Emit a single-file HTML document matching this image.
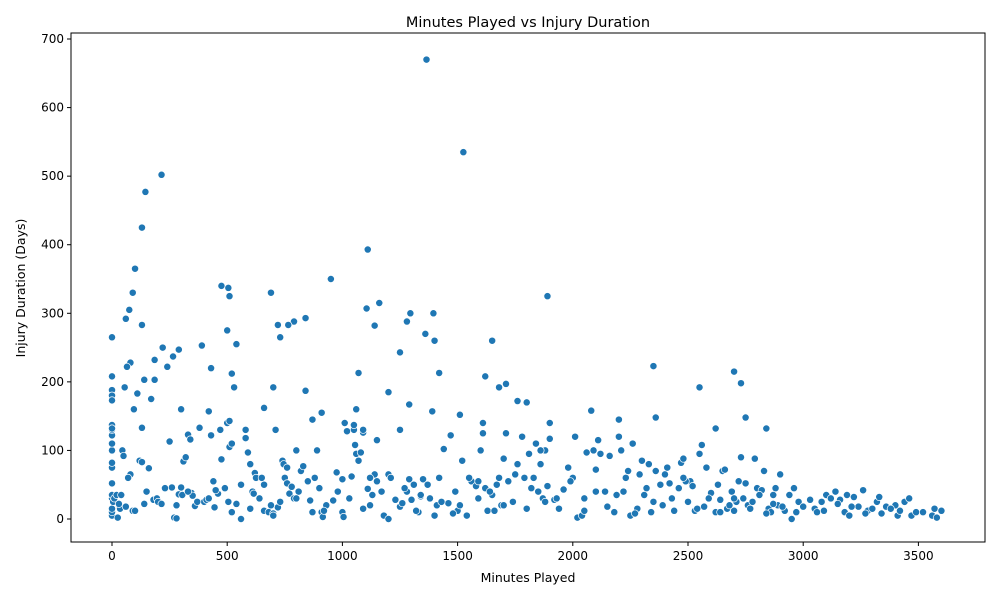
<!DOCTYPE html>
<html><head><meta charset="utf-8"><style>
body{margin:0;background:#fff;font-family:"Liberation Sans","DejaVu Sans",sans-serif}
svg text{font-family:"DejaVu Sans","Liberation Sans",sans-serif;fill:#000}
</style></head><body>
<svg id="chart" width="1000" height="600" xmlns="http://www.w3.org/2000/svg">
<text x="528" y="27" font-size="14.5" text-anchor="middle">Minutes Played vs Injury Duration</text>
<g id="marks"></g>
<g id="axes"></g>
<text x="528" y="582" font-size="12.5" text-anchor="middle">Minutes Played</text>
<text transform="translate(25,288) rotate(-90)" font-size="12.5" text-anchor="middle">Injury Duration (Days)</text>
</svg>
<script>
const minutes=[0,0,0,0,0,0,0,0,0,0,0,0,5,10,20,25,30,35,40,45,50,60,80,90,100,110,120,130,140,160,180,195,200,215,250,260,270,280,290,300,305,310,320,330,340,345,350,360,380,400,410,420,430,440,445,460,470,475,490,500,505,510,520,540,560,580,580,590,600,610,615,620,625,640,660,660,680,700,700,720,730,740,745,750,760,770,780,790,800,810,820,830,860,870,880,890,900,910,915,930,960,975,1000,1000,1005,1010,1020,1040,1050,1055,1060,1070,1080,1090,1110,1120,1130,1140,1150,1170,1180,1200,1200,1210,1250,1260,1280,1290,1300,1310,1330,1340,1350,1380,1400,1410,1420,1440,1460,1470,1490,1500,1510,1520,1540,1560,1580,1600,1610,1620,1630,1650,1660,1670,1680,1690,1700,1710,1720,1740,1760,1780,1790,1800,1810,1830,1840,1850,1860,1870,1880,1890,1900,1920,1940,1960,1980,2000,2010,2020,2040,2050,2060,2080,2090,2100,2110,2120,2140,2160,2180,2200,2200,2210,2220,2240,2250,2260,2280,2290,2300,2310,2330,2340,2350,2360,2380,2400,2410,2420,2440,2460,2470,2480,2500,2510,2520,2530,2550,2560,2570,2580,2600,2620,2630,2640,2650,2660,2670,2690,2700,2720,2730,2740,2750,2760,2780,2790,2800,2820,2830,2850,2860,2870,2880,2890,2900,2920,2940,2950,2960,2980,3000,3050,3060,3080,3100,3120,3140,3160,3180,3190,3200,3220,3240,3260,3280,3300,3320,3330,3340,3360,3400,3410,3420,3440,3460,3470,3490,3560,3570,3580,3600,
1365,1525,215,145,130,1110,950,100,475,505,510,690,90,1890,1160,75,1105,1295,1395,840,790,765,720,60,130,1140,1280,1360,0,730,1650,1400,540,390,220,500,1250,290,265,185,80,65,430,240,2350,2700,1070,1420,520,0,1620,185,140,2730,1710,1680,2550,530,700,55,0,0,0,1200,840,170,1760,1800,1290,1060,660,95,300,420,1390,1510,910,2360,2750,2200,870,510,1900,1610,0,0,1050,1090,130,1250,710,2620,2840,
30,70,150,230,280,330,370,450,520,560,600,650,690,760,800,850,920,980,1030,1090,1150,1230,1270,1320,1370,1430,1480,1550,1590,1640,1700,1750,1820,1880,1930,1990,2050,2100,2150,2190,2230,2270,2320,2390,2430,2490,2540,2590,2640,2680,2710,2770,2810,2840,2870,2910,2970,3030,3090,3150,3210,3270,3380,3520,1120,1340,1590,1860,2480,2700];
const days=[5,10,15,30,35,52,75,82,100,110,122,130,25,30,35,2,20,15,35,100,92,18,65,12,12,183,85,83,22,74,28,30,25,22,113,46,2,1,36,46,35,84,90,123,116,38,34,19,133,25,28,30,122,55,17,37,130,87,45,140,25,105,10,22,0,130,118,97,80,40,37,67,60,30,50,12,10,8,5,17,25,85,80,60,52,37,47,30,100,40,70,77,27,10,60,100,45,10,3,20,27,68,58,10,3,140,128,62,130,108,95,85,97,126,44,20,35,65,55,40,5,0,65,60,18,23,40,58,28,50,10,33,58,30,5,20,60,102,23,122,40,12,20,85,5,55,48,100,125,45,12,35,12,50,60,20,88,125,55,25,80,120,60,15,95,60,110,40,80,30,100,48,117,28,15,43,75,60,120,2,5,30,97,158,100,72,115,95,40,92,10,120,145,100,40,70,5,110,15,65,85,35,80,10,25,70,50,65,75,52,12,45,82,88,25,55,48,12,95,108,18,75,38,10,50,28,70,72,15,40,12,55,90,30,52,20,25,88,45,42,70,15,10,35,45,20,65,12,35,0,45,25,18,15,10,25,35,30,40,28,10,35,5,32,18,42,12,15,25,32,8,18,20,5,12,25,30,5,10,5,15,2,12,
670,535,502,477,425,393,350,365,340,337,325,330,330,325,315,305,307,300,300,293,288,283,283,292,283,282,288,270,265,265,260,260,255,253,250,275,243,247,237,232,228,222,220,222,223,215,213,213,212,208,208,203,203,198,197,192,192,192,192,192,188,180,173,185,187,175,172,170,167,160,162,160,160,157,157,152,155,148,148,145,145,143,140,140,137,132,137,130,133,130,130,132,132,
22,60,40,45,20,40,25,42,110,50,15,60,20,75,30,55,12,40,30,15,115,28,45,12,50,25,8,60,30,40,20,65,45,25,30,55,12,40,18,35,60,8,45,20,30,55,15,30,10,20,25,15,35,8,22,18,10,28,12,22,18,8,15,10,60,35,55,100,60,30];
const xTicks=[0,500,1000,1500,2000,2500,3000,3500];
const yTicks=[0,100,200,300,400,500,600,700];
const X0=71,X1=985,Y0=33,Y1=542;
const xs=v=>112+v*0.2304, ys=v=>519-v*0.6857;
const NS='http://www.w3.org/2000/svg';
const marks=document.getElementById('marks'),axes=document.getElementById('axes');
for(let i=0;i<minutes.length;i++){
 const c=document.createElementNS(NS,'circle');
 c.setAttribute('cx',xs(minutes[i]));c.setAttribute('cy',ys(days[i]));c.setAttribute('r',3.6);
 c.setAttribute('fill','#1f77b4');c.setAttribute('stroke','#fff');c.setAttribute('stroke-width',0.7);
 
 
 marks.appendChild(c);
}
const fr=document.createElementNS(NS,'rect');
fr.setAttribute('x',X0);fr.setAttribute('y',Y0);fr.setAttribute('width',X1-X0);fr.setAttribute('height',Y1-Y0);
fr.setAttribute('fill','none');fr.setAttribute('stroke','#000');fr.setAttribute('stroke-width',1);


axes.appendChild(fr);
xTicks.forEach(t=>{
 const l=document.createElementNS(NS,'line');const x=xs(t);
 l.setAttribute('x1',x);l.setAttribute('x2',x);l.setAttribute('y1',Y1);l.setAttribute('y2',Y1+4);l.setAttribute('stroke','#000');
 
 
 axes.appendChild(l);
 const tx=document.createElementNS(NS,'text');tx.setAttribute('x',x);tx.setAttribute('y',Y1+18);tx.setAttribute('font-size','12');tx.setAttribute('text-anchor','middle');tx.textContent=t;
 
 
 axes.appendChild(tx);
});
yTicks.forEach(t=>{
 const l=document.createElementNS(NS,'line');const y=ys(t);
 l.setAttribute('x1',X0-4);l.setAttribute('x2',X0);l.setAttribute('y1',y);l.setAttribute('y2',y);l.setAttribute('stroke','#000');
 
 
 axes.appendChild(l);
 const tx=document.createElementNS(NS,'text');tx.setAttribute('x',X0-7);tx.setAttribute('y',y+4);tx.setAttribute('font-size','12');tx.setAttribute('text-anchor','end');tx.textContent=t;
 
 
 axes.appendChild(tx);
});
</script>
</body></html>
